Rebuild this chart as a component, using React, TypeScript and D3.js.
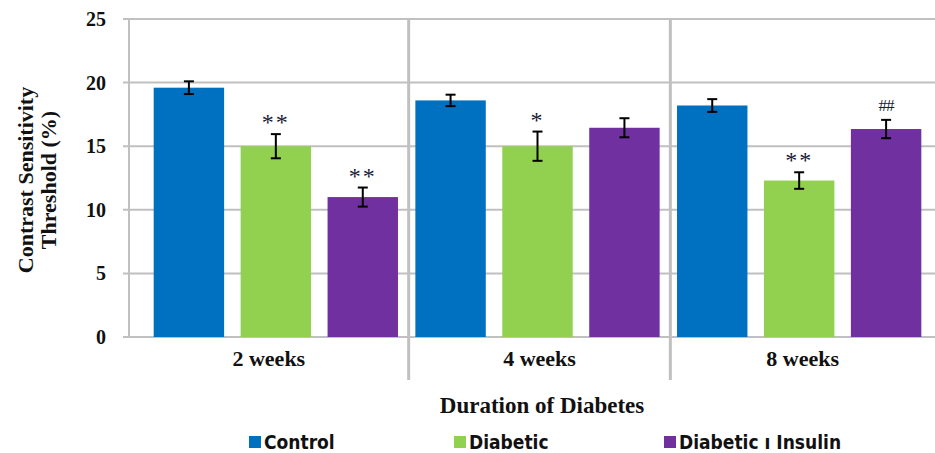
import React from "react";
import * as d3 from "d3";

const categories = ["2 weeks", "4 weeks", "8 weeks"];
const seriesNames = ["Control", "Diabetic", "Diabetic ı Insulin"];
const seriesColors = ["#0070c0", "#92d050", "#7030a0"];
const controlMeans = [19.6, 18.6, 18.2];
const controlErr = [0.5, 0.45, 0.5];
const diabeticMeans = [15.0, 15.0, 12.3];
const diabeticErr = [0.95, 1.15, 0.65];
const insulinMeans = [11.0, 16.45, 16.35];
const insulinErr = [0.75, 0.75, 0.72];
const controlMarks = ["", "", ""];
const diabeticMarks = ["**", "*", "**"];
const insulinMarks = ["**", "", "##"];
const yTicks = [0, 5, 10, 15, 20, 25];
const yTitleLines = ["Contrast Sensitivity", "Threshold (%)"];
const xTitle = "Duration of Diabetes";

const W = 935;
const H = 453;
const axisX = 129;
const serif = "'Liberation Serif', 'Times New Roman', serif";
const sans = "'DejaVu Sans', Verdana, sans-serif";

export default function App() {
  const y = d3.scaleLinear().domain([0, 25]).range([337, 19]);
  const x0 = d3.scaleBand().domain(categories).range([145, 930]).paddingInner(0).paddingOuter(0);
  const x1 = d3.scaleBand().domain(seriesNames).range([0, x0.step()]).paddingInner(0.19).paddingOuter(0.1);

  const means = [controlMeans, diabeticMeans, insulinMeans];
  const errs = [controlErr, diabeticErr, insulinErr];
  const marks = [controlMarks, diabeticMarks, insulinMarks];

  const seps = categories.slice(1).map((c) => (x0(c) as number) + 2);
  const bounds = [axisX, ...seps, W];
  const legendX = [249, 454, 664];

  return (
    <svg width={W} height={H} style={{ position: "absolute", left: 0, top: 0, background: "#fff" }}>
      {/* grid lines */}
      {yTicks.map((t) => (
        <line key={"g" + t} x1={axisX - 6} x2={W} y1={y(t)} y2={y(t)} stroke="#c0c0c0" strokeWidth={2} />
      ))}
      <line x1={axisX} x2={axisX} y1={y(25)} y2={y(0)} stroke="#c0c0c0" strokeWidth={2} />
      {seps.map((s, i) => (
        <line key={"s" + i} x1={s} x2={s} y1={y(25)} y2={380} stroke="#c0c0c0" strokeWidth={3} />
      ))}
      {/* bars */}
      {categories.map((c, ci) =>
        seriesNames.map((s, si) => {
          const bx = (x0(c) as number) + (x1(s) as number);
          const bw = x1.bandwidth();
          const v = means[si][ci];
          const e = errs[si][ci];
          const cx = bx + bw / 2;
          const m = marks[si][ci];
          return (
            <g key={c + s}>
              <rect x={bx} y={y(v)} width={bw} height={y(0) - y(v)} fill={seriesColors[si]} />
              <line x1={cx} x2={cx} y1={y(v + e)} y2={y(v - e)} stroke="#000" strokeWidth={2} />
              <line x1={cx - 5} x2={cx + 5} y1={y(v + e)} y2={y(v + e)} stroke="#000" strokeWidth={2} />
              <line x1={cx - 5} x2={cx + 5} y1={y(v - e)} y2={y(v - e)} stroke="#000" strokeWidth={2} />
              {m ? (
                <text
                  x={cx}
                  y={y(v + e) - (m === "##" ? 9 : 4)}
                  textAnchor="middle"
                  fontFamily={serif}
                  fontSize={m === "##" ? 17 : 24}
                  letterSpacing={m === "##" ? -1 : 2}
                  fill="#1a1a3a"
                >
                  {m}
                </text>
              ) : null}
            </g>
          );
        })
      )}
      {/* y tick labels */}
      {yTicks.map((t) => (
        <text key={"t" + t} x={106} y={y(t)} dy="0.35em" textAnchor="end" fontFamily={serif} fontWeight="bold" fontSize={20} fill="#111">
          {t}
        </text>
      ))}
      {/* y title */}
      {yTitleLines.map((l, i) => (
        <text
          key={l}
          transform={`translate(${33 + i * 23},180) rotate(-90)`}
          textAnchor="middle"
          fontFamily={serif}
          fontWeight="bold"
          fontSize={22}
          fill="#111"
        >
          {l}
        </text>
      ))}
      {/* x labels */}
      {categories.map((c, i) => (
        <text key={"x" + c} x={(bounds[i] + bounds[i + 1]) / 2} y={366} textAnchor="middle" fontFamily={serif} fontWeight="bold" fontSize={22} fill="#111">
          {c}
        </text>
      ))}
      <text x={542} y={413} textAnchor="middle" fontFamily={serif} fontWeight="bold" fontSize={23} fill="#111">
        {xTitle}
      </text>
      {/* legend */}
      {seriesNames.map((s, i) => (
        <g key={"l" + s}>
          <rect x={legendX[i]} y={436} width={12} height={12} fill={seriesColors[i]} />
          <text x={legendX[i] + 15} y={449} fontFamily={sans} fontWeight="bold" fontSize={19} fontStretch="condensed" fill="#111">
            {s}
          </text>
        </g>
      ))}
    </svg>
  );
}
